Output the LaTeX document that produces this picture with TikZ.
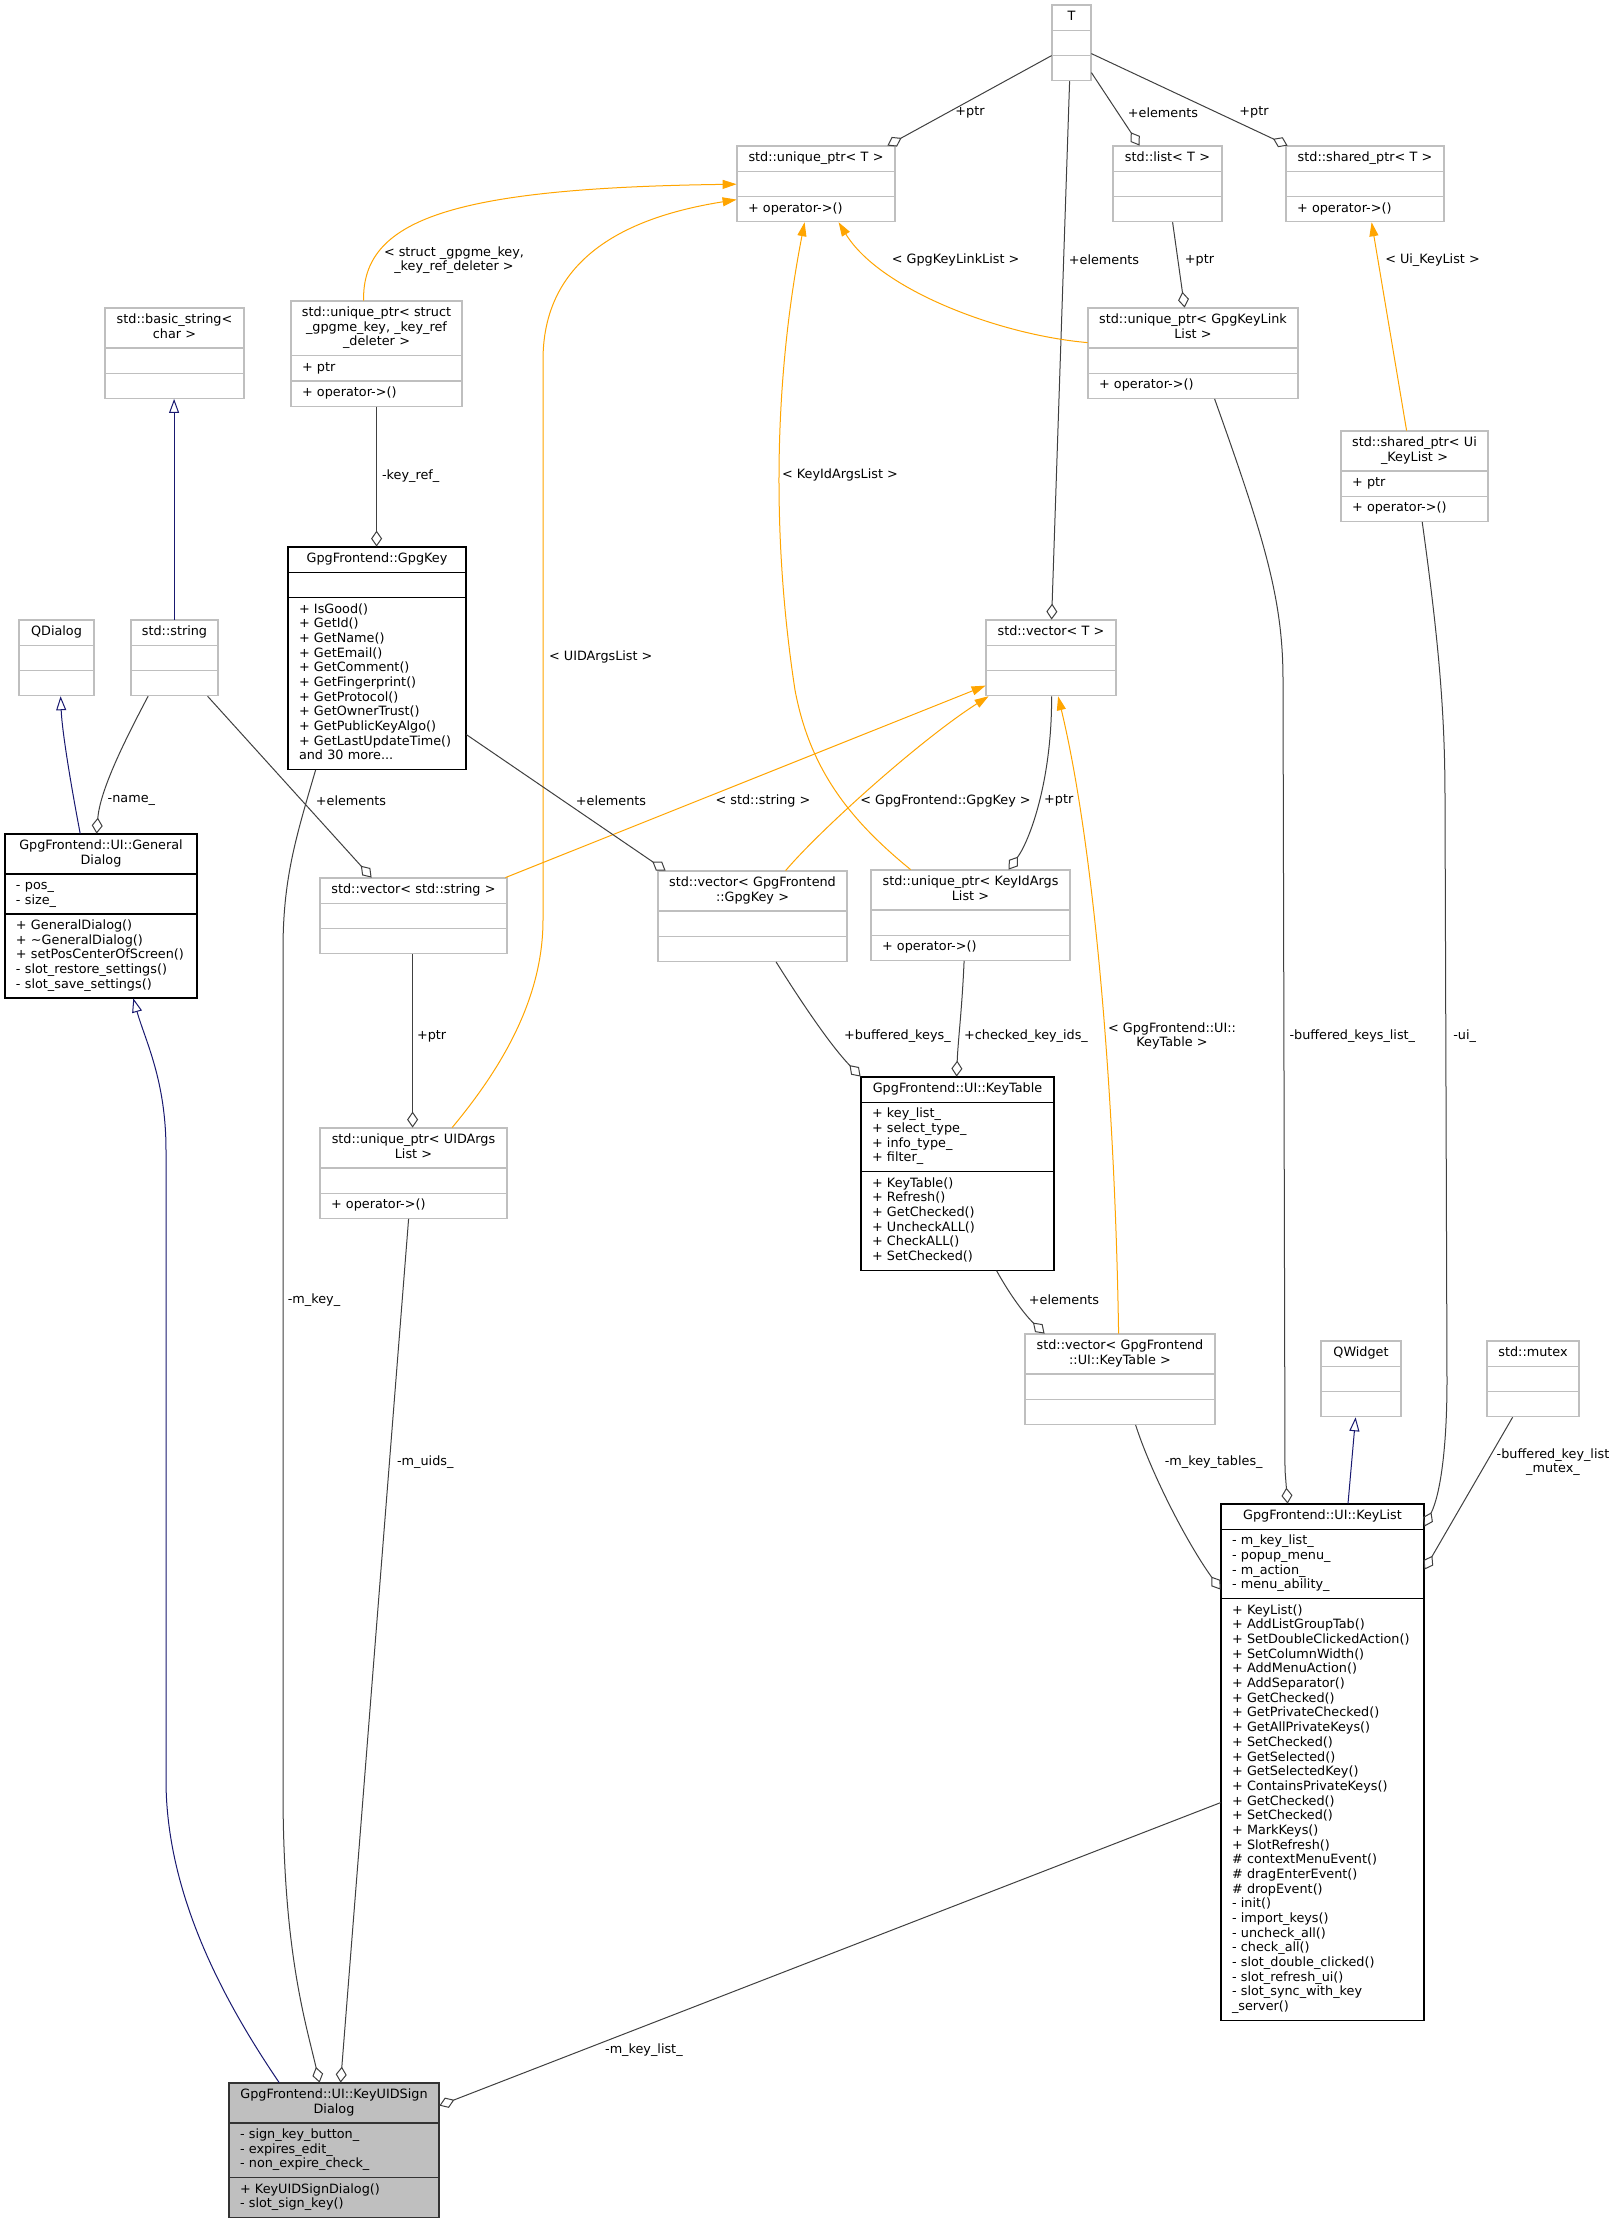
\documentclass[tikz,border=0pt]{standalone}
\usepackage{fontspec}
\setmainfont{DejaVu Sans}
\usetikzlibrary{arrows.meta,positioning,fit,calc}

\definecolor{boxgrey}{HTML}{BFBFBF}
\definecolor{edgegrey}{HTML}{404040}
\definecolor{tplorange}{HTML}{FFA500}
\definecolor{inhnavy}{HTML}{191970}

% one text line of a compartment
\newcommand\ls{\vrule width 0pt height 5.14pt depth 2.2pt}
% class box: [style]{name}{width px}{top left}{header}{attributes}{methods}
\newcommand\umlclass[7][]{%
  \pgfmathsetmacro\clstw{#3/2-11}%
  \pgfmathsetmacro\clshw{#3/2-6}%
  \node[hdr, #1, text width=\clshw pt, anchor=north west] (#2-h) at (#4) {#5};
  \node[cmp, #1, text width=\clstw pt, below=0pt of #2-h] (#2-a) {#6};
  \node[cmp, #1, text width=\clstw pt, below=0pt of #2-a] (#2-m) {#7};
  \node[fit=(#2-h)(#2-m), inner sep=0pt] (#2) {};%
}

\begin{document}
\begin{tikzpicture}[
  x=0.5pt, y=-0.5pt,
  font=\fontsize{6.4}{7.34}\selectfont,
  cmpbase/.style = {draw=boxgrey, fill=white, line width=0.6pt, outer sep=0pt,
                    inner ysep=2.65pt,
                    execute at begin node=\ls, execute at end node=\ls},
  hdr/.style   = {cmpbase, inner xsep=3pt, align=center},
  cmp/.style   = {cmpbase, inner xsep=5.5pt, align=left},
  doc/.style   = {draw=black, line width=0.7pt},
  focus/.style = {draw=black!80, fill=boxgrey, line width=0.7pt},
  lbl/.style   = {inner sep=0pt, align=center},
  agg/.style   = {draw=edgegrey, line width=0.5pt,
                  -{Diamond[open, length=8pt, width=5.5pt]}},
  tpl/.style   = {draw=tplorange, line width=0.5pt,
                  -{Triangle[length=7pt, width=4.5pt]}},
  inh/.style   = {draw=inhnavy, line width=0.5pt,
                  -{Triangle[open, length=7pt, width=5pt, fill=white]}},
]
\path[use as bounding box, fill=white] (0,0) rectangle (1619,2224);

%% --- templates ---
\umlclass{T}{39}{1052,5}{T}{}{}
\umlclass{uptrT}{158}{737,146}{std::unique\_ptr<~T~>}{}{+~operator->()}
\umlclass{listT}{109}{1113,146}{std::list<~T~>}{}{}
\umlclass{sptrT}{158}{1286,146}{std::shared\_ptr<~T~>}{}{+~operator->()}
\umlclass{vT}{130}{986,620}{std::vector<~T~>}{}{}

%% --- instances ---
\umlclass{uptrLink}{210}{1088,308}{std::unique\_ptr<~GpgKeyLink\\List~>}{}{+~operator->()}
\umlclass{sptrUi}{147}{1341,431}{std::shared\_ptr<~Ui\\\_KeyList~>}{+~ptr}{+~operator->()}
\umlclass{bstr}{139}{105,308}{std::basic\_string<\\char~>}{}{}
\umlclass{uptrKey}{171}{291,301}{std::unique\_ptr<~struct\\\_gpgme\_key,~\_key\_ref\\\_deleter~>}{+~ptr}{+~operator->()}
\umlclass{qdialog}{75}{19,620}{QDialog}{}{}
\umlclass{string}{87}{131,620}{std::string}{}{}
\umlclass{vstr}{187}{320,878}{std::vector<~std::string~>}{}{}
\umlclass{vkey}{189}{658,871}{std::vector<~GpgFrontend\\::GpgKey~>}{}{}
\umlclass{uptrKid}{199}{871,870}{std::unique\_ptr<~KeyIdArgs\\List~>}{}{+~operator->()}
\umlclass{uptrUid}{187}{320,1128}{std::unique\_ptr<~UIDArgs\\List~>}{}{+~operator->()}
\umlclass{vtable}{190}{1025,1334}{std::vector<~GpgFrontend\\::UI::KeyTable~>}{}{}
\umlclass{qwidget}{80}{1321,1341}{QWidget}{}{}
\umlclass{mutex}{92}{1487,1341}{std::mutex}{}{}

%% --- documented classes ---
\umlclass[doc]{gpgkey}{178}{288,547}{GpgFrontend::GpgKey}{}%
  {+~IsGood()\\+~GetId()\\+~GetName()\\+~GetEmail()\\+~GetComment()\\%
   +~GetFingerprint()\\+~GetProtocol()\\+~GetOwnerTrust()\\%
   +~GetPublicKeyAlgo()\\+~GetLastUpdateTime()\\and~30~more...}
\umlclass[doc]{gdialog}{192}{5,834}{GpgFrontend::UI::General\\Dialog}%
  {-~pos\_\\-~size\_}%
  {+~GeneralDialog()\\+~\textasciitilde GeneralDialog()\\+~setPosCenterOfScreen()\\%
   -~slot\_restore\_settings()\\-~slot\_save\_settings()}
\umlclass[doc]{keytable}{193}{861,1077}{GpgFrontend::UI::KeyTable}%
  {+~key\_list\_\\+~select\_type\_\\+~info\_type\_\\+~filter\_}%
  {+~KeyTable()\\+~Refresh()\\+~GetChecked()\\+~UncheckALL()\\+~CheckALL()\\+~SetChecked()}
\umlclass[doc]{keylist}{203}{1221,1504}{GpgFrontend::UI::KeyList}%
  {-~m\_key\_list\_\\-~popup\_menu\_\\-~m\_action\_\\-~menu\_ability\_}%
  {+~KeyList()\\+~AddListGroupTab()\\+~SetDoubleClickedAction()\\+~SetColumnWidth()\\%
   +~AddMenuAction()\\+~AddSeparator()\\+~GetChecked()\\+~GetPrivateChecked()\\%
   +~GetAllPrivateKeys()\\+~SetChecked()\\+~GetSelected()\\+~GetSelectedKey()\\%
   +~ContainsPrivateKeys()\\+~GetChecked()\\+~SetChecked()\\+~MarkKeys()\\%
   +~SlotRefresh()\\\#~contextMenuEvent()\\\#~dragEnterEvent()\\\#~dropEvent()\\%
   -~init()\\-~import\_keys()\\-~uncheck\_all()\\-~check\_all()\\%
   -~slot\_double\_clicked()\\-~slot\_refresh\_ui()\\-~slot\_sync\_with\_key\\\_server()}
\umlclass[focus]{signdlg}{210}{229,2083}{GpgFrontend::UI::KeyUIDSign\\Dialog}%
  {-~sign\_key\_button\_\\-~expires\_edit\_\\-~non\_expire\_check\_}%
  {+~KeyUIDSignDialog()\\-~slot\_sign\_key()}

%% --- members of T ---
\draw[agg] ($(T.north west)+(0,51)$) -- ($(uptrT.north east)+(-8,0)$);
\draw[agg] ($(T.north east)+(0,68)$) -- ($(listT.north west)+(27,0)$);
\draw[agg] ($(T.north east)+(0,49)$) -- ($(sptrT.north west)+(2,0)$);
\draw[agg] ($(T.south west)+(18,0)$) -- ($(vT.north west)+(66,0)$);
\draw[agg] ($(listT.south west)+(60,0)$) -- ($(uptrLink.north west)+(97,0)$);

%% --- template instances ---
\draw[tpl] ($(uptrLink.north west)+(0,35)$) .. controls (1000,335) and (880,290) .. ($(uptrT.south west)+(102,0)$);
\draw[tpl] ($(sptrUi.north west)+(66,0)$) -- ($(sptrT.south west)+(86,0)$);
\draw[tpl] ($(uptrKey.north west)+(73,0)$) .. controls (362,220) and (450,188) .. ($(uptrT.north west)+(0,38.6)$);
\draw[tpl] ($(uptrUid.north west)+(132.5,0)$) .. controls (500,1070) and (543,1000) .. (543,920)
  -- (543,360) .. controls (543,250) and (640,215) .. ($(uptrT.north west)+(0,54)$);
\draw[tpl] ($(uptrKid.north west)+(40,0)$) .. controls (850,820) and (810,770) .. (795,690)
  .. controls (775,560) and (770,400) .. ($(uptrT.south west)+(68,0)$);
\draw[tpl] ($(vstr.north east)+(-2,0)$) -- ($(vT.north west)+(0,66)$);
\draw[tpl] ($(vkey.north west)+(128,0)$) .. controls (820,830) and (920,740) .. ($(vT.south west)+(3,0)$);
\draw[tpl] ($(vtable.north west)+(94,0)$) .. controls (1115,1100) and (1095,850) .. ($(vT.south west)+(72.5,0)$);

%% --- inheritance ---
\draw[inh] ($(string.north west)+(43.5,0)$) -- ($(bstr.south west)+(69.5,0)$);
\draw[inh] ($(gdialog.north west)+(75.6,0)$) .. controls (70,780) and (62,730) .. ($(qdialog.south west)+(42,0)$);
\draw[inh] ($(keylist.north west)+(127.4,0)$) -- ($(qwidget.south west)+(35,0)$);
\draw[inh] ($(signdlg.north west)+(50.6,0)$) .. controls (230,2010) and (166,1900) .. (166,1780)
  -- (166,1150) .. controls (166,1080) and (145,1040) .. ($(gdialog.south west)+(128.7,0)$);

%% --- members ---
\draw[agg] ($(uptrKey.south west)+(86,0)$) -- ($(gpgkey.north west)+(89,0)$);
\draw[agg] ($(string.south west)+(17.5,0)$) .. controls (125,740) and (100,790) .. ($(gdialog.north west)+(92,0)$);
\draw[agg] ($(string.south west)+(77,0)$) -- ($(vstr.north west)+(52,0)$);
\draw[agg] ($(gpgkey.north east)+(0,188)$) -- ($(vkey.north west)+(8,0)$);
\draw[agg] ($(vstr.south west)+(93,0)$) -- ($(uptrUid.north west)+(93,0)$);
\draw[agg] ($(vT.south west)+(66,0)$) .. controls (1052,780) and (1030,840) .. ($(uptrKid.north west)+(138,0)$);
\draw[agg] ($(vkey.south west)+(118.5,0)$) .. controls (800,1000) and (830,1045) .. (keytable.north west);
\draw[agg] ($(uptrKid.south west)+(93.5,0)$) .. controls (962,1010) and (958,1040) .. ($(keytable.north west)+(96,0)$);
\draw[agg] ($(keytable.south west)+(136,0)$) .. controls (1010,1295) and (1025,1315) .. ($(vtable.north west)+(20,0)$);
\draw[agg] ($(vtable.south west)+(111,0)$) .. controls (1150,1470) and (1185,1540) .. ($(keylist.north west)+(0,86)$);
\draw[agg] ($(uptrLink.south west)+(127,0)$) .. controls (1265,540) and (1283,600) .. (1283,680)
  -- (1285,1470) -- ($(keylist.north west)+(67,0)$);
\draw[agg] ($(sptrUi.south west)+(81.6,0)$) .. controls (1440,650) and (1445,720) .. (1445,800)
  -- (1447,1380) .. controls (1447,1450) and (1440,1495) .. ($(keylist.north east)+(0,23)$);
\draw[agg] ($(mutex.south west)+(26,0)$) -- ($(keylist.north east)+(0,66)$);
\draw[agg] ($(gpgkey.south west)+(28,0)$) .. controls (295,840) and (283,880) .. (283,950)
  -- (283,1790) .. controls (283,1950) and (305,2020) .. ($(signdlg.north west)+(91,0)$);
\draw[agg] ($(uptrUid.south west)+(89,0)$) -- ($(signdlg.north west)+(112,0)$);
\draw[agg] ($(keylist.north west)+(0,299)$) -- ($(signdlg.north east)+(0,23)$);

%% --- edge labels ---
\node[lbl] (l-tptr)   at (970,112.5)  {+ptr};
\node[lbl] (l-tlist)  at (1163,112.5) {+elements};
\node[lbl] (l-tsptr)  at (1254,112.5) {+ptr};
\node[lbl] (l-link)   at (955.6,260)  {< GpgKeyLinkList >};
\node[lbl] (l-tvec)   at (1104,260)   {+elements};
\node[lbl] (l-lptr)   at (1199.5,260) {+ptr};
\node[lbl] (l-ui)     at (1432.5,260) {< Ui\_KeyList >};
\node[lbl] (l-struct) at (454,260)    {< struct \_gpgme\_key,\\ \_key\_ref\_deleter >};
\node[lbl] (l-keyref) at (410.7,475.7){-key\_ref\_};
\node[lbl] (l-kid)    at (840,475)    {< KeyIdArgsList >};
\node[lbl] (l-uid)    at (600.8,657.3){< UIDArgsList >};
\node[lbl] (l-name)   at (131.4,800.6){-name\_};
\node[lbl] (l-selem)  at (351,800.6)  {+elements};
\node[lbl] (l-kelem)  at (611,800.6)  {+elements};
\node[lbl] (l-vstr)   at (763,800.6)  {< std::string >};
\node[lbl] (l-vkey)   at (945.5,800.6){< GpgFrontend::GpgKey >};
\node[lbl] (l-vptr)   at (1058.8,800.6){+ptr};
\node[lbl] (l-buf)    at (897.4,1036.3){+buffered\_keys\_};
\node[lbl] (l-chk)    at (1026,1036.3){+checked\_key\_ids\_};
\node[lbl] (l-uptr)   at (431.6,1036.3){+ptr};
\node[lbl] (l-vtab)   at (1172,1036)  {< GpgFrontend::UI::\\KeyTable >};
\node[lbl] (l-bufl)   at (1352.3,1036){-buffered\_keys\_list\_};
\node[lbl] (l-uiv)    at (1464.6,1036){-ui\_};
\node[lbl] (l-mkey)   at (314,1300)   {-m\_key\_};
\node[lbl] (l-telem)  at (1064,1300)  {+elements};
\node[lbl] (l-muid)   at (425.3,1462.3){-m\_uids\_};
\node[lbl] (l-mtab)   at (1213.7,1462){-m\_key\_tables\_};
\node[lbl] (l-mutex)  at (1553,1462)  {-buffered\_key\_list\\\_mutex\_};
\node[lbl] (l-mlist)  at (643.9,2050) {-m\_key\_list\_};
\end{tikzpicture}
\end{document}
